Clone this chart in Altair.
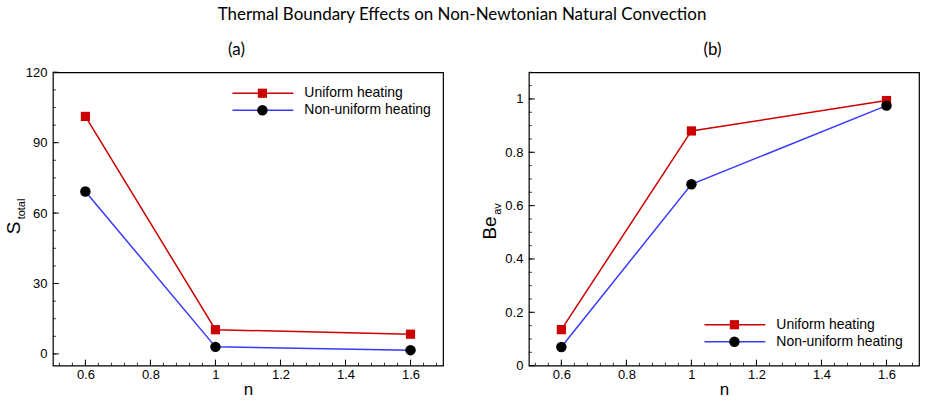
import altair as alt
import pandas as pd

# Power-law index
n_values = [0.6, 1.0, 1.6]

# Total entropy generation
s_uniform = [101.2, 10.3, 8.4]
s_nonuniform = [69.2, 3.0, 1.6]

# Average Bejan number
be_uniform = [0.135, 0.880, 0.994]
be_nonuniform = [0.070, 0.680, 0.975]

series_names = ["Uniform heating", "Non-uniform heating"]

x_major = [0.6, 0.8, 1.0, 1.2, 1.4, 1.6]
x_minor = [round(0.52 + 0.04 * i, 2) for i in range(30)]
s_major = [0, 30, 60, 90, 120]
s_minor = [7.5 * i for i in range(17)]
be_major = [0, 0.2, 0.4, 0.6, 0.8, 1.0]
be_minor = [round(0.05 * i, 2) for i in range(23)]

W, H = 391, 294
RED = "#cc0000"
BLUE = "#3a3aff"
TICK_FONT = "Liberation Sans"
TITLE_FONT = "Lato"


def make_panel(uniform, nonuniform, y_domain, y_major, y_minor,
               y_main, y_sub, legend_x, legend_y, panel_title):
    df = pd.DataFrame({
        "n": n_values * 2,
        "value": uniform + nonuniform,
        "series": [series_names[0]] * 3 + [series_names[1]] * 3,
    })
    xs = alt.Scale(domain=[0.5, 1.7], nice=False, zero=False)
    ys = alt.Scale(domain=y_domain, nice=False, zero=False)
    x_axis = alt.Axis(values=x_major, format=".1~f", ticks=False, domain=False,
                      grid=False, labelPadding=3, titlePadding=0)
    y_axis = alt.Axis(values=y_major, format=".1~f", ticks=False, domain=False,
                      grid=False, labelPadding=6)

    def X():
        return alt.X("n:Q", scale=xs, axis=x_axis, title="n")

    def Y():
        return alt.Y("value:Q", scale=ys, axis=y_axis, title=None)

    lines = alt.Chart(df).mark_line(strokeWidth=1.5).encode(
        x=X(), y=Y(),
        color=alt.Color("series:N", scale=alt.Scale(domain=series_names,
                                                   range=[RED, BLUE]),
                        legend=None),
    )
    squares = alt.Chart(df).transform_filter(
        alt.datum.series == series_names[0]
    ).mark_point(shape="square", filled=True, size=85, color=RED,
                 opacity=1).encode(x=X(), y=Y())
    circles = alt.Chart(df).transform_filter(
        alt.datum.series == series_names[1]
    ).mark_point(shape="circle", filled=True, size=110, color="black",
                 opacity=1).encode(x=X(), y=Y())

    # inward ticks along the bottom and left edges
    xmaj = alt.Chart(pd.DataFrame({"n": x_major})).mark_rule(
        color="black", strokeWidth=1).encode(
        x=X(), y=alt.value(H), y2=alt.value(H - 6))
    xmin = alt.Chart(pd.DataFrame({"n": x_minor})).mark_rule(
        color="black", strokeWidth=0.8).encode(
        x=X(), y=alt.value(H), y2=alt.value(H - 3))
    ymaj = alt.Chart(pd.DataFrame({"value": y_major})).mark_rule(
        color="black", strokeWidth=1).encode(
        y=Y(), x=alt.value(0), x2=alt.value(6))
    ymin = alt.Chart(pd.DataFrame({"value": y_minor})).mark_rule(
        color="black", strokeWidth=0.8).encode(
        y=Y(), x=alt.value(0), x2=alt.value(3))

    one = pd.DataFrame({"k": [0]})
    # panel label above the frame
    t_panel = alt.Chart(one).mark_text(
        text=panel_title, font=TITLE_FONT, fontSize=17, align="center",
        baseline="middle").encode(x=alt.value(184), y=alt.value(-22))

    # y-axis title with subscript
    t_main = alt.Chart(one).mark_text(
        text=y_main, font=TICK_FONT, fontSize=19, angle=270,
        align="center", baseline="middle").encode(
        x=alt.value(-39), y=alt.value(H / 2 + 9))
    t_sub = alt.Chart(one).mark_text(
        text=y_sub, font=TICK_FONT, fontSize=11, angle=270,
        align="center", baseline="middle").encode(
        x=alt.value(-31), y=alt.value(H / 2 - 10))

    # legend drawn inside the frame
    leg = []
    for i, (name, col) in enumerate(zip(series_names, [RED, BLUE])):
        yy = legend_y + 17 * i
        leg.append(alt.Chart(one).mark_rule(color=col, strokeWidth=1.5).encode(
            x=alt.value(legend_x), x2=alt.value(legend_x + 61), y=alt.value(yy)))
        if i == 0:
            leg.append(alt.Chart(one).mark_point(
                shape="square", filled=True, size=85, color=RED, opacity=1
            ).encode(x=alt.value(legend_x + 30), y=alt.value(yy)))
        else:
            leg.append(alt.Chart(one).mark_point(
                shape="circle", filled=True, size=110, color="black", opacity=1
            ).encode(x=alt.value(legend_x + 30), y=alt.value(yy)))
        leg.append(alt.Chart(one).mark_text(
            text=name, font=TICK_FONT, fontSize=14, align="left",
            baseline="middle").encode(x=alt.value(legend_x + 72), y=alt.value(yy)))

    return alt.layer(xmin, xmaj, ymin, ymaj, lines, squares, circles,
                     t_panel, t_main, t_sub, *leg).properties(width=W, height=H)


left = make_panel(s_uniform, s_nonuniform, [-5, 120], s_major, s_minor,
                  "S", "total", 180, 21, "(a)")
right = make_panel(be_uniform, be_nonuniform, [0, 1.1], be_major, be_minor,
                   "Be", "av", 176, 253, "(b)")

chart = alt.hconcat(left, right, spacing=36).properties(
    title=alt.TitleParams("Thermal Boundary Effects on Non-Newtonian Natural Convection",
                          font=TITLE_FONT, fontSize=17, fontWeight="normal",
                          anchor="middle", color="black", offset=17),
    padding={"left": 4, "top": 5, "right": 5, "bottom": 0},
    background="white",
).configure_view(
    stroke="black", strokeWidth=1.2
).configure_axis(
    labelFont=TICK_FONT, labelFontSize=13, labelColor="black",
    titleFont=TICK_FONT, titleFontSize=17, titleFontWeight="normal",
    titleColor="black"
)

chart.save("out.html", embed_options={"renderer": "svg", "actions": False})
